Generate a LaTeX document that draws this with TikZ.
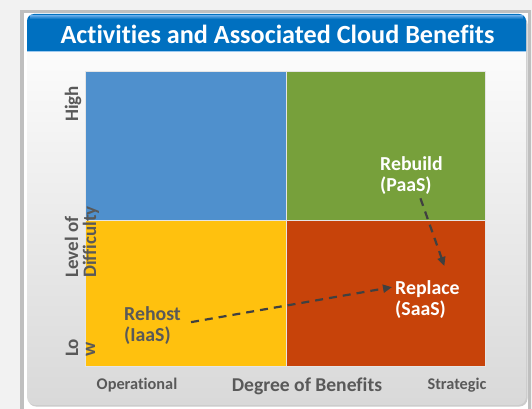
\documentclass[tikz,border=0pt]{standalone}
\usepackage{fontspec}
\setmainfont[Ligatures=NoCommon]{Carlito}
\usetikzlibrary{arrows.meta,calc}
\definecolor{bgc}{HTML}{F2F2F2}
\definecolor{framec}{HTML}{BFBFBF}
\definecolor{hdr}{HTML}{0070C0}
\definecolor{hdrlight}{HTML}{5DA7E6}
\definecolor{qblue}{HTML}{4F90CD}
\definecolor{qgreen}{HTML}{77A03B}
\definecolor{qyellow}{HTML}{FFC10E}
\definecolor{qred}{HTML}{C7430A}
\definecolor{txt}{HTML}{595959}
\definecolor{arr}{HTML}{404040}
\tikzset{
  quad/.style={draw=white!80!gray, line width=0.6pt},
  axislbl/.style={text=txt, font=\bfseries\fontsize{19}{19}\selectfont, inner sep=0pt, rotate=90},
  botlbl/.style={text=txt, font=\bfseries\fontsize{16.3}{16}\selectfont, inner sep=0pt},
  actlbl/.style={font=\bfseries\fontsize{19.8}{21}\selectfont, align=left, inner sep=0pt},
  dasharrow/.style={draw=arr, line width=2.2pt, dash pattern=on 8pt off 6pt, -{Triangle[length=9pt,width=8pt]}}
}
\begin{document}
\begin{tikzpicture}[x=1pt,y=-1pt]
\useasboundingbox (0,0) rectangle (532,409);
\fill[bgc] (0,0) rectangle (532,409);
% outer frame
\fill[framec] (20,10) rectangle (531,409);
\fill[white] (24,13) rectangle (528,409);
% panel shadow
\fill[gray!40, rounded corners=8pt] (28,16) rectangle (527.5,406.5);
% panel
\shade[top color=white, bottom color=gray!30, rounded corners=8pt] (27,14) rectangle (526,405);
% header
\fill[hdr] (27,51) {[rounded corners=7pt] -- (27,14) -- (526,14)} -- (526,51) -- cycle;
\shade[top color=hdrlight, bottom color=hdr] (30,15.5) rectangle (523,19);
\draw[hdrlight!60!white, line width=0.8pt] (27,51.4) -- (526,51.4);
\node[text=white, font=\bfseries\fontsize{26.2}{26}\selectfont, inner sep=0pt] (title) at (277.5,34) {Activities and Associated Cloud Benefits};
% quadrants
\fill[qblue] (85,71) rectangle (286,220);
\fill[qgreen] (286,71) rectangle (485,220);
\fill[qyellow] (85,220) rectangle (286,366);
\fill[qred] (286,220) rectangle (485,366);
\draw[quad] (85,71) rectangle (485,366);
\draw[quad] (286,71) -- (286,366);
\draw[quad] (85,220) -- (485,220);
% axis labels
\node[axislbl, anchor=base] (high) at (78,104) {High};
\node[axislbl, anchor=base west] (level) at (78,278) {Level of};
\node[axislbl, anchor=base west] (diff) at (96,278) {Difficulty};
\node[axislbl, anchor=base west] (lo) at (78,357) {Lo};
\node[axislbl, anchor=base west] (w) at (95,357) {w};
\node[botlbl] (oper) at (137,385) {Operational};
\node[text=txt, font=\bfseries\fontsize{19.6}{20}\selectfont, inner sep=0pt] (degree) at (307,386) {Degree of Benefits};
\node[botlbl] (strat) at (457,385) {Strategic};
% activities
\node[actlbl, text=txt, anchor=north west] (rehost) at (124,306) {Rehost\\(IaaS)};
\node[actlbl, text=white, anchor=north west] (rebuild) at (380,156) {Rebuild\\(PaaS)};
\node[actlbl, text=white, anchor=north west] (replace) at (395,280) {Replace\\(SaaS)};
% arrows
\draw[dasharrow] ($(rehost.east)+(10,-3)$) -- ($(replace.west)+(-3,-12)$);
\draw[dasharrow] ($(rebuild.south)+(9,4)$) -- ($(replace.north)+(17,-14)$);
\end{tikzpicture}
\end{document}
